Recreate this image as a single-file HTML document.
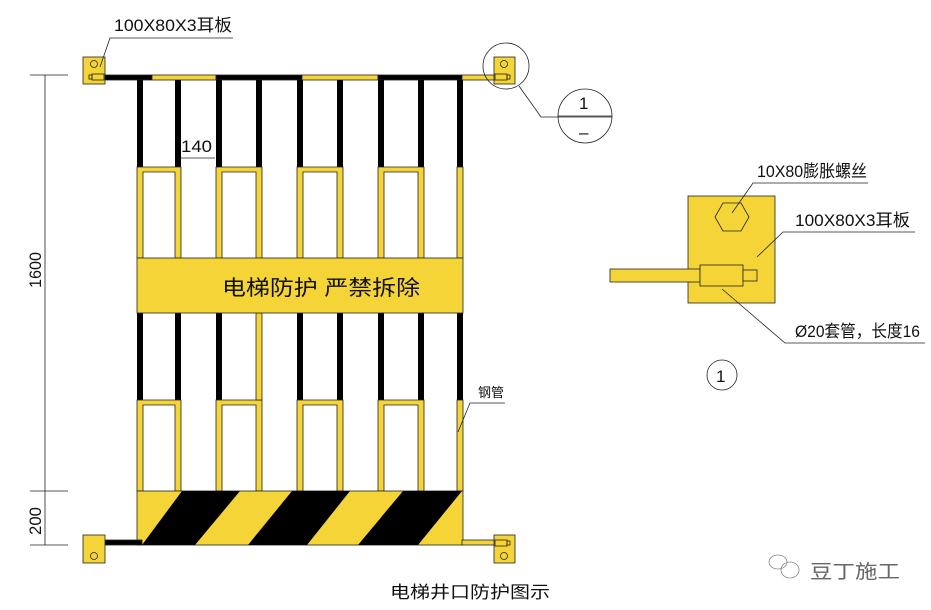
<!DOCTYPE html>
<html><head><meta charset="utf-8"><style>
html,body{margin:0;padding:0;background:#fff;width:931px;height:610px;overflow:hidden}
text{font-family:"Liberation Sans","Noto Sans CJK SC",sans-serif;fill:#111}
</style></head><body>
<svg width="931" height="610" viewBox="0 0 931 610" xmlns="http://www.w3.org/2000/svg">
<g stroke="#222" stroke-width="0.8">
<!-- top rail -->
<rect x="100" y="75" width="52" height="5" fill="#000"/>
<rect x="152" y="75" width="64" height="5" fill="#f5d437"/>
<rect x="216" y="75" width="86" height="5" fill="#000"/>
<rect x="302" y="75" width="76" height="5" fill="#f5d437"/>
<rect x="378" y="75" width="84" height="5" fill="#000"/>
<rect x="462" y="75" width="48" height="5" fill="#f5d437"/>
<!-- upper black bars -->
<g fill="#000" stroke="none">
<rect x="137" y="80" width="6" height="87"/><rect x="175" y="80" width="6" height="87"/>
<rect x="216" y="80" width="6" height="87"/><rect x="256" y="80" width="6" height="87"/>
<rect x="297" y="80" width="6" height="87"/><rect x="337" y="80" width="6" height="87"/>
<rect x="378" y="80" width="6" height="87"/><rect x="418" y="80" width="6" height="87"/>
<rect x="457" y="80" width="6" height="87"/>
<rect x="137" y="313" width="6" height="87"/><rect x="175" y="313" width="6" height="87"/>
<rect x="216" y="313" width="6" height="87"/>
<rect x="297" y="313" width="6" height="87"/><rect x="337" y="313" width="6" height="87"/>
<rect x="378" y="313" width="6" height="87"/><rect x="418" y="313" width="6" height="87"/>
<rect x="457" y="313" width="6" height="87"/>
</g>
<!-- U shapes upper -->
<g fill="#f5d437">
<path d="M137 167H181V258H175V172H143V258H137Z"/>
<path d="M216 167H262V258H256V172H222V258H216Z"/>
<path d="M297 167H343V258H337V172H303V258H297Z"/>
<path d="M378 167H424V258H418V172H384V258H378Z"/>
<rect x="457" y="167" width="6" height="91"/>
<path d="M137 400H181V491H175V405H143V491H137Z"/>
<path d="M216 400H262V491H256V405H222V491H216Z"/>
<path d="M297 400H343V491H337V405H303V491H297Z"/>
<path d="M378 400H424V491H418V405H384V491H378Z"/>
<rect x="457" y="400" width="6" height="91"/>
<rect x="256" y="313" width="6" height="87"/>
<!-- banner -->
<rect x="137" y="258" width="326" height="55"/>
<!-- bottom band -->
<rect x="137" y="491" width="326" height="54"/>
</g>
<g fill="#000" stroke="none">
<polygon points="142,545 195,545 240,491 182,491"/>
<polygon points="248,545 307,545 350,491 292,491"/>
<polygon points="358,545 418,545 462,491 403,491"/>
</g>
<rect x="100" y="540" width="42" height="5" fill="#000"/>
<rect x="462" y="540" width="48" height="5" fill="#f5d437"/>
<!-- ear plates -->
<g fill="#f5d437">
<rect x="83" y="57" width="22" height="27"/><rect x="494" y="57" width="21" height="27"/>
<rect x="83" y="535" width="22" height="28"/><rect x="494" y="535" width="21" height="28"/>
</g>
<g fill="none">
<circle cx="94" cy="64" r="3.5"/><circle cx="504" cy="64" r="3.5"/>
<circle cx="94" cy="556" r="3.5"/><circle cx="504" cy="556" r="3.5"/>
<rect x="92" y="74" width="12" height="6" fill="#f5d437"/><rect x="89" y="75" width="3" height="4"/>
<rect x="495" y="74" width="12" height="6" fill="#f5d437"/><rect x="507" y="75" width="3" height="4"/>
<rect x="495" y="540" width="12" height="6" fill="#f5d437"/><rect x="507" y="541" width="3" height="4"/>
<circle cx="506" cy="66" r="23"/>
<polyline points="519,86 541,117 612,117"/>
<circle cx="585" cy="116" r="27"/>
<line x1="558" y1="116" x2="612" y2="116"/>
<!-- dims -->
<line x1="45" y1="75" x2="45" y2="545"/>
<line x1="30" y1="75" x2="68" y2="75"/><line x1="30" y1="491" x2="68" y2="491"/><line x1="30" y1="545" x2="68" y2="545"/>
<polyline points="100,67 110,38 233,38"/>
<line x1="181" y1="158" x2="215" y2="158"/>
<polyline points="458,432 470,403 505,403"/>
<!-- detail -->
<rect x="688" y="196" width="87" height="107" fill="#f5d437"/>
<rect x="610" y="269" width="90" height="13" fill="#f5d437"/>
<rect x="700" y="265" width="43" height="21" fill="#f5d437"/>
<rect x="743" y="270" width="14" height="11" fill="#f5d437"/>
<polygon points="715,217 723,203 741,203 749,217 741,231 723,231" fill="#f5d437"/>
<polyline points="732,213 753,183 868,183"/>
<polyline points="757,257 783,232 915,232"/>
<polyline points="722,289 785,343 925,343"/>
<circle cx="722" cy="375" r="15"/>
</g>
</g>
<g stroke="#888" fill="none" stroke-width="0.8">
<ellipse cx="778" cy="562" rx="9" ry="7"/><ellipse cx="790" cy="570" rx="9" ry="8"/>
</g>
<g font-size="17">
<text x="114" y="31" textLength="118" lengthAdjust="spacingAndGlyphs">100X80X3耳板</text>
<text x="181" y="152" textLength="31" lengthAdjust="spacingAndGlyphs">140</text>
<text x="757" y="177" textLength="110" lengthAdjust="spacingAndGlyphs">10X80膨胀螺丝</text>
<text x="795" y="226" textLength="115" lengthAdjust="spacingAndGlyphs">100X80X3耳板</text>
<text x="795" y="337" textLength="125" lengthAdjust="spacingAndGlyphs">Ø20套管，长度16</text>
<text x="716" y="382">1</text>
<text x="579" y="109">1</text>
<text x="579" y="138">–</text>
<text transform="translate(41,288) rotate(-90)" textLength="36" lengthAdjust="spacingAndGlyphs">1600</text>
<text transform="translate(41,535) rotate(-90)" textLength="28" lengthAdjust="spacingAndGlyphs">200</text>
</g>
<text x="478" y="397" font-size="13">钢管</text>
<text x="222" y="295" font-size="21" textLength="198" lengthAdjust="spacingAndGlyphs">电梯防护 严禁拆除</text>
<text x="390" y="598" font-size="17" textLength="160" lengthAdjust="spacingAndGlyphs">电梯井口防护图示</text>
<text x="810" y="578" font-size="19" style="fill:#666" textLength="90" lengthAdjust="spacingAndGlyphs">豆丁施工</text>
</svg>
</body></html>
